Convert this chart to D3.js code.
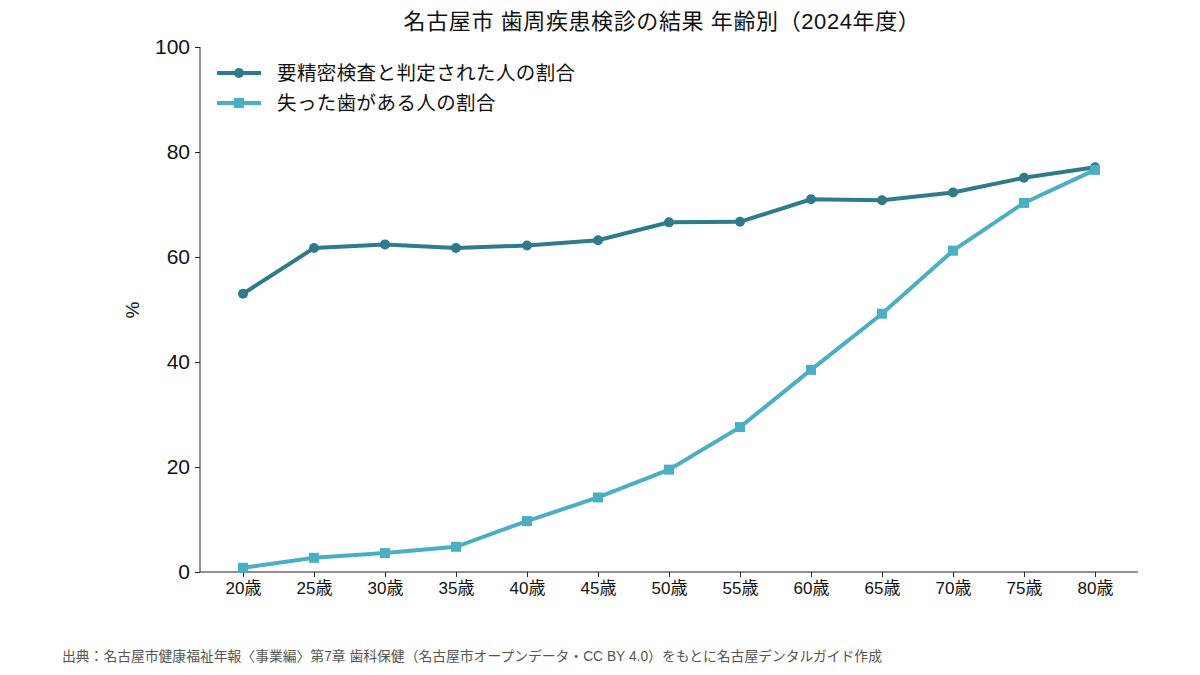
<!DOCTYPE html>
<html lang="ja">
<head>
  <meta charset="UTF-8">
  <title>名古屋市 歯周疾患検診の結果 年齢別</title>
  <script src="https://d3js.org/d3.v7.min.js"></script>
  <style>
    body { margin: 0; background: #fff; }
    svg text { font-family: "Liberation Sans", "Noto Sans CJK JP", sans-serif; fill: #111; }
    .axis path, .axis line { stroke: #222; }
  </style>
</head>
<body>
  <svg id="chart" width="1200" height="675"></svg>

  <script>
    // data
    const ages = ["20歳", "25歳", "30歳", "35歳", "40歳", "45歳", "50歳", "55歳", "60歳", "65歳", "70歳", "75歳", "80歳"];
    const needExam = [53.0, 61.7, 62.4, 61.7, 62.2, 63.2, 66.6, 66.7, 71.0, 70.8, 72.3, 75.1, 77.1];
    const lostTeeth = [0.8, 2.7, 3.6, 4.8, 9.7, 14.2, 19.5, 27.6, 38.5, 49.2, 61.2, 70.3, 76.6];
    const yTicks = [0, 20, 40, 60, 80, 100];
    const seriesNames = ["要精密検査と判定された人の割合", "失った歯がある人の割合"];

    const width = 1200, height = 675;
    const margin = { top: 47, right: 62, bottom: 103, left: 200 };
    const c1 = "#2e7b8c", c2 = "#4bafc4";

    const svg = d3.select("#chart");

    const x = d3.scalePoint()
      .domain(ages)
      .range([243, 1095]);

    const y = d3.scaleLinear()
      .domain([0, 100])
      .range([height - margin.bottom, margin.top]);

    // axes
    svg.append("g")
      .attr("class", "axis")
      .attr("transform", "translate(0," + (height - margin.bottom) + ")")
      .call(d3.axisBottom(x).tickSize(5).tickPadding(5))
      .call(g => g.select(".domain").attr("d", "M" + margin.left + ",0H" + (width - margin.right)))
      .selectAll("text").style("font-size", "17px");

    svg.append("g")
      .attr("class", "axis")
      .attr("transform", "translate(" + margin.left + ",0)")
      .call(d3.axisLeft(y).tickValues(yTicks).tickSize(5).tickPadding(5))
      .call(g => g.select(".domain").attr("d", "M0," + y(100) + "V" + y(0)))
      .selectAll("text").style("font-size", "21px");

    // y label
    svg.append("text")
      .attr("transform", "translate(134,310) rotate(-90)")
      .attr("text-anchor", "middle")
      .attr("dominant-baseline", "middle")
      .style("font-size", "19px")
      .text("%");

    // title
    svg.append("text")
      .attr("x", 662).attr("y", 29)
      .attr("text-anchor", "middle")
      .style("font-size", "22px")
      .style("letter-spacing", "0.6px")
      .text("名古屋市 歯周疾患検診の結果 年齢別（2024年度）");

    const line = d3.line()
      .x((d, i) => x(ages[i]))
      .y(d => y(d));

    // series 1: circles
    svg.append("path")
      .datum(needExam)
      .attr("fill", "none")
      .attr("stroke", c1)
      .attr("stroke-width", 4)
      .attr("d", line);

    svg.selectAll(".pt1")
      .data(needExam)
      .enter().append("circle")
      .attr("class", "pt1")
      .attr("cx", (d, i) => x(ages[i]))
      .attr("cy", d => y(d))
      .attr("r", 5)
      .attr("fill", c1);

    // series 2: squares
    svg.append("path")
      .datum(lostTeeth)
      .attr("fill", "none")
      .attr("stroke", c2)
      .attr("stroke-width", 4)
      .attr("d", line);

    svg.selectAll(".pt2")
      .data(lostTeeth)
      .enter().append("rect")
      .attr("class", "pt2")
      .attr("x", (d, i) => x(ages[i]) - 5)
      .attr("y", d => y(d) - 5)
      .attr("width", 10)
      .attr("height", 10)
      .attr("fill", c2);

    // legend
    const legend = svg.append("g").attr("transform", "translate(217,73)");
    seriesNames.forEach((name, i) => {
      const g = legend.append("g").attr("transform", "translate(0," + (i * 30) + ")");
      const col = i === 0 ? c1 : c2;
      g.append("line").attr("x1", 0).attr("x2", 44).attr("y1", 0).attr("y2", 0)
        .attr("stroke", col).attr("stroke-width", 4);
      if (i === 0) {
        g.append("circle").attr("cx", 22).attr("cy", 0).attr("r", 5).attr("fill", col);
      } else {
        g.append("rect").attr("x", 17).attr("y", -5).attr("width", 10).attr("height", 10).attr("fill", col);
      }
      g.append("text")
        .attr("x", 60).attr("y", 0)
        .attr("dominant-baseline", "central")
        .style("font-size", "19.5px")
        .style("letter-spacing", "0.4px")
        .text(name);
    });

    // source
    svg.append("text")
      .attr("x", 62).attr("y", 661)
      .style("font-size", "13.8px")
      .style("fill", "#555")
      .text("出典：名古屋市健康福祉年報〈事業編〉第7章 歯科保健（名古屋市オープンデータ・CC BY 4.0）をもとに名古屋デンタルガイド作成");
  </script>
</body>
</html>
